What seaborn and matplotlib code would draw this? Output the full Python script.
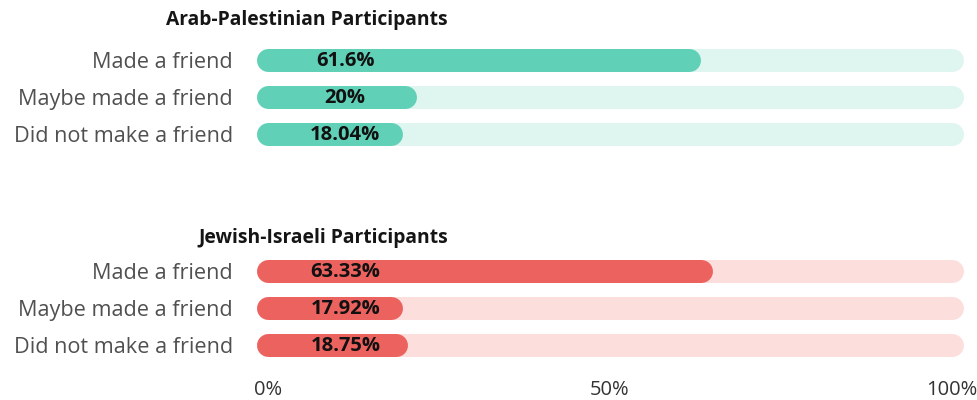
import matplotlib
matplotlib.use("Agg")
import matplotlib.pyplot as plt
import seaborn as sns
import pandas as pd

# Survey responses, share of participants (%)
categories = ["Made a friend", "Maybe made a friend", "Did not make a friend"]
arab_palestinian = [61.6, 20.0, 18.04]
jewish_israeli = [63.33, 17.92, 18.75]
value_labels_ap = ["61.6%", "20%", "18.04%"]
value_labels_ji = ["63.33%", "17.92%", "18.75%"]
group_titles = ["Arab-Palestinian Participants", "Jewish-Israeli Participants"]
tick_values = [0, 50, 100]
tick_labels = ["0%", "50%", "100%"]

sns.set_theme(style="white")
plt.rcParams["font.family"] = ["Open Sans", "DejaVu Sans"]

W, H, DPI = 977, 400, 100
fig = plt.figure(figsize=(W / DPI, H / DPI), dpi=DPI)
fig.patch.set_facecolor("white")

BAR_PX = 23.0
BAR_LW = BAR_PX * 72 / DPI

# pixel positions of 0% and 100%; the axes is a little wider so the round caps fit
X0, X1 = 268, 952
PAD_L, PAD_R = 12, 16
PX_PER_UNIT = (X1 - X0) / 100
LABEL_RIGHT = 233


def px_axes(left, top, right, bottom):
    return fig.add_axes([left / W, 1 - bottom / H, (right - left) / W, (bottom - top) / H])


def round_bars(ax, start, color, z):
    """Redraw the seaborn bars added since `start` as pill shapes with round ends."""
    for p in list(ax.patches)[start:]:
        x, y, w, h = p.get_x(), p.get_y(), p.get_width(), p.get_height()
        yc = y + h / 2
        ax.plot([x, x + w], [yc, yc], color=color, lw=BAR_LW,
                solid_capstyle="round", zorder=z)
        p.set_visible(False)


def panel(ax, values, labels, dark, light, show_ticks):
    df = pd.DataFrame({"category": categories, "value": values, "full": [100] * len(values)})
    sns.barplot(data=df, x="full", y="category", order=categories, color=light,
                saturation=1, width=0.6, ax=ax)
    round_bars(ax, 0, light, 2)
    n = len(ax.patches)
    sns.barplot(data=df, x="value", y="category", order=categories, color=dark,
                saturation=1, width=0.6, ax=ax)
    round_bars(ax, n, dark, 3)
    ax.set_xlim(-PAD_L / PX_PER_UNIT, 100 + PAD_R / PX_PER_UNIT)
    ax.set_ylim(2.5, -0.5)
    ax.set_xlabel("")
    ax.set_ylabel("")
    for i, lab in enumerate(labels):
        ax.text(11.3, i + 0.03, lab, ha="center", va="center", fontsize=14.5,
                fontweight="bold", color="#111111", zorder=5)
    ax.tick_params(axis="y", length=0, pad=(X0 - PAD_L - LABEL_RIGHT) * 72 / DPI,
                   labelsize=15.6, labelcolor="#505050")
    if show_ticks:
        ax.set_xticks(tick_values)
        ax.set_xticklabels(tick_labels, fontsize=14.5, color="#333333")
        ax.tick_params(axis="x", length=0, pad=12)
    else:
        ax.set_xticks([])
    sns.despine(ax=ax, left=True, bottom=True)


ax_top = px_axes(X0 - PAD_L, 60 - 18.5, X1 + PAD_R, 134 + 18.5)
ax_bot = px_axes(X0 - PAD_L, 271 - 18.5, X1 + PAD_R, 345 + 18.5)

panel(ax_top, arab_palestinian, value_labels_ap, "#60d1b7", "#dff5ef", False)
panel(ax_bot, jewish_israeli, value_labels_ji, "#ec625f", "#fcdedd", True)

fig.text(448 / W, 1 - 20 / H, group_titles[0], ha="right", va="center",
         fontsize=13.9, fontweight="bold", color="#151515")
fig.text(448 / W, 1 - 238 / H, group_titles[1], ha="right", va="center",
         fontsize=13.9, fontweight="bold", color="#151515")

fig.savefig("out.png", dpi=DPI, facecolor="white")
